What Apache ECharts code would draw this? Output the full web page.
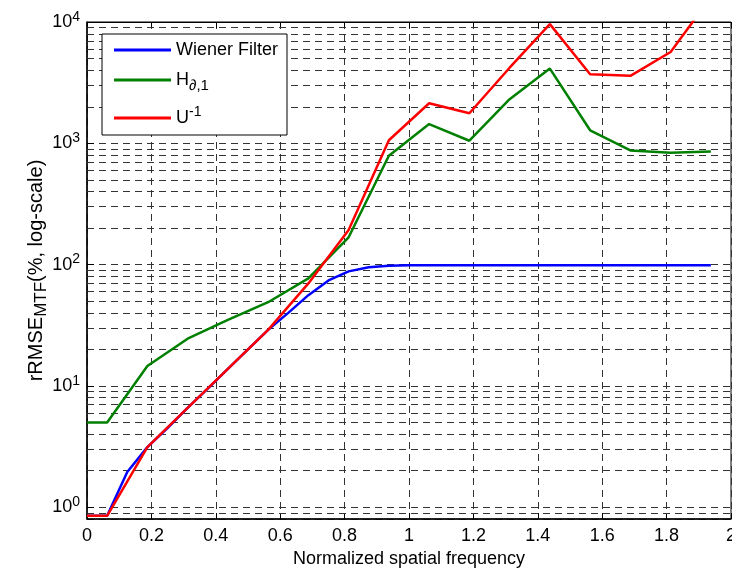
<!DOCTYPE html>
<html>
<head>
<meta charset="utf-8">
<script src="https://cdn.jsdelivr.net/npm/echarts@6/dist/echarts.min.js"></script>
<style>
html, body { margin: 0; padding: 0; background: #fff; }
#chart { width: 732px; height: 571px; }
</style>
</head>
<body>
<div id="chart"></div>
<script>
var myChart = echarts.init(document.getElementById('chart'));
var font = "'Liberation Sans', Arial, sans-serif";

// series names
var names = ['Wiener Filter', 'H∂,1', 'U-1'];

// sample frequencies used by H and U^-1
var freqCoarse = [0, 0.0625, 0.1875, 0.3125, 0.4375, 0.5625, 0.6875, 0.8125, 0.9375,
    1.0625, 1.1875, 1.3125, 1.4375, 1.5625, 1.6875, 1.8125, 1.9375];
var greenVals = [5, 5, 14.6, 24.5, 35, 49, 77, 168, 790,
    1440, 1050, 2310, 4130, 1280, 873, 835, 856];
var redVals = [0.85, 0.85, 3.13, 6.6, 13.8, 29, 70, 193, 1060,
    2140, 1770, 4200, 9600, 3710, 3600, 5660, 16000];

// Wiener filter is sampled finer at low frequency
var blueFreq = [0, 0.0625, 0.125, 0.1875, 0.25, 0.3125, 0.375, 0.4375, 0.5, 0.5625,
    0.625, 0.6875, 0.75, 0.8125, 0.875, 0.9375, 1.0, 1.0625, 1.1875, 1.3125,
    1.4375, 1.5625, 1.6875, 1.8125, 1.9375];
var blueVals = [0.85, 0.85, 1.95, 3.13, 4.5, 6.6, 9.5, 13.8, 20, 29,
    40, 56, 74, 88, 95, 98, 99, 99, 99, 99,
    99, 99, 99, 99, 99];

// x tick labels
var xTicks = [0, 0.2, 0.4, 0.6, 0.8, 1, 1.2, 1.4, 1.6, 1.8, 2];

function pairs(xs, ys) {
    return xs.map(function (x, i) { return [x, ys[i]]; });
}

// minor log grid lines (2..9 x 10^k)
var minorLines = [];
for (var k = -1; k <= 3; k++) {
    for (var m = 2; m <= 9; m++) {
        var v = m * Math.pow(10, k);
        if (v > 0.8 && v < 10000) minorLines.push({ yAxis: v });
    }
}

var gridDash = { color: '#333', width: 1, type: [7, 5] };

var rich = {
    t: { fontSize: 18, fontFamily: font, color: '#000', lineHeight: 26 },
    sub: { fontSize: 15, fontFamily: font, color: '#000', lineHeight: 6, verticalAlign: 'bottom' },
    sup: { fontSize: 14, fontFamily: font, color: '#000', lineHeight: 10, verticalAlign: 'top' }
};

var nameRich = {
    t: { fontSize: 20, fontFamily: font, color: '#000', lineHeight: 28 },
    sub: { fontSize: 17, fontFamily: font, color: '#000', lineHeight: 6, verticalAlign: 'bottom' }
};

option = {
    animation: false,
    backgroundColor: '#fff',
    grid: {
        left: 87, right: 1, top: 22, bottom: 52,
        outerBoundsMode: 'none',
        containLabel: false,
        show: true, borderColor: '#000', borderWidth: 1
    },
    legend: {
        orient: 'vertical',
        left: 102, top: 34,
        padding: [7, 9, 8, 12],
        icon: 'rect',
        itemWidth: 57, itemHeight: 3, itemGap: 12,
        backgroundColor: '#fff',
        borderColor: '#000', borderWidth: 1,
        borderRadius: 0,
        data: names,
        textStyle: { fontSize: 18, fontFamily: font, color: '#000', rich: rich },
        formatter: function (name) {
            if (name === names[1]) return '{t|H}{sub|∂,1}';
            if (name === names[2]) return '{t|U}{sup|-1}';
            return '{t|' + name + '}';
        }
    },
    xAxis: [{
        type: 'value',
        min: 0, max: 2, interval: 0.2,
        name: 'Normalized spatial frequency',
        nameLocation: 'middle', nameGap: 30,
        nameTextStyle: { fontSize: 18, fontFamily: font, color: '#000' },
        axisLine: { lineStyle: { color: '#000', width: 1.5 } },
        axisTick: { inside: true, length: 6, lineStyle: { color: '#000' } },
        axisLabel: {
            fontSize: 18, fontFamily: font, color: '#000', margin: 8,
            formatter: function (v) {
                for (var i = 0; i < xTicks.length; i++) {
                    if (Math.abs(xTicks[i] - v) < 1e-9) return String(xTicks[i]);
                }
                return '';
            }
        },
        splitLine: { show: true, lineStyle: gridDash }
    }, {
        type: 'value',
        position: 'top',
        min: 0, max: 2, interval: 0.2,
        axisLine: { show: true, lineStyle: { color: '#000', width: 1 } },
        axisTick: { inside: true, length: 6, lineStyle: { color: '#000' } },
        axisLabel: { show: false },
        splitLine: { show: false }
    }],
    yAxis: {
        type: 'log',
        logBase: 10,
        min: 0.8, max: 10000,
        name: '{t|rRMSE}{sub|MTF}{t|(%, log-scale)}',
        nameLocation: 'middle', nameGap: 37,
        nameMoveOverlap: false,
        nameTextStyle: { fontSize: 20, fontFamily: font, color: '#000', rich: nameRich },
        axisLine: { show: true, lineStyle: { color: '#000', width: 1.5 } },
        axisTick: { inside: true, length: 7, lineStyle: { color: '#000' } },
        axisLabel: {
            margin: 7,
            fontSize: 18, fontFamily: font, color: '#000',
            rich: {
                t: { fontSize: 18, fontFamily: font, color: '#000', lineHeight: 24 },
                sup: { fontSize: 14, fontFamily: font, color: '#000', lineHeight: 10, verticalAlign: 'top' }
            },
            formatter: function (v) {
                var e = Math.round(Math.log10(v));
                if (Math.abs(v - Math.pow(10, e)) > 1e-6 * v) return '';
                return '{t|10}{sup|' + e + '}';
            }
        },
        splitLine: { show: true, lineStyle: gridDash }
    },
    series: [{
        name: names[0],
        type: 'line',
        data: pairs(blueFreq, blueVals),
        symbol: 'none',
        z: 4,
        lineStyle: { color: '#0000ff', width: 2.5 },
        itemStyle: { color: '#0000ff' },
        markLine: {
            silent: true,
            symbol: ['none', 'none'],
            label: { show: false },
            lineStyle: gridDash,
            emphasis: { disabled: true },
            z: 1,
            data: minorLines
        }
    }, {
        name: names[1],
        type: 'line',
        data: pairs(freqCoarse, greenVals),
        symbol: 'none',
        z: 3,
        lineStyle: { color: '#008000', width: 2.5 },
        itemStyle: { color: '#008000' }
    }, {
        name: names[2],
        type: 'line',
        data: pairs(freqCoarse, redVals),
        symbol: 'none',
        z: 5,
        lineStyle: { color: '#ff0000', width: 2.5 },
        itemStyle: { color: '#ff0000' }
    }]
};
myChart.setOption(option);
</script>
</body>
</html>
